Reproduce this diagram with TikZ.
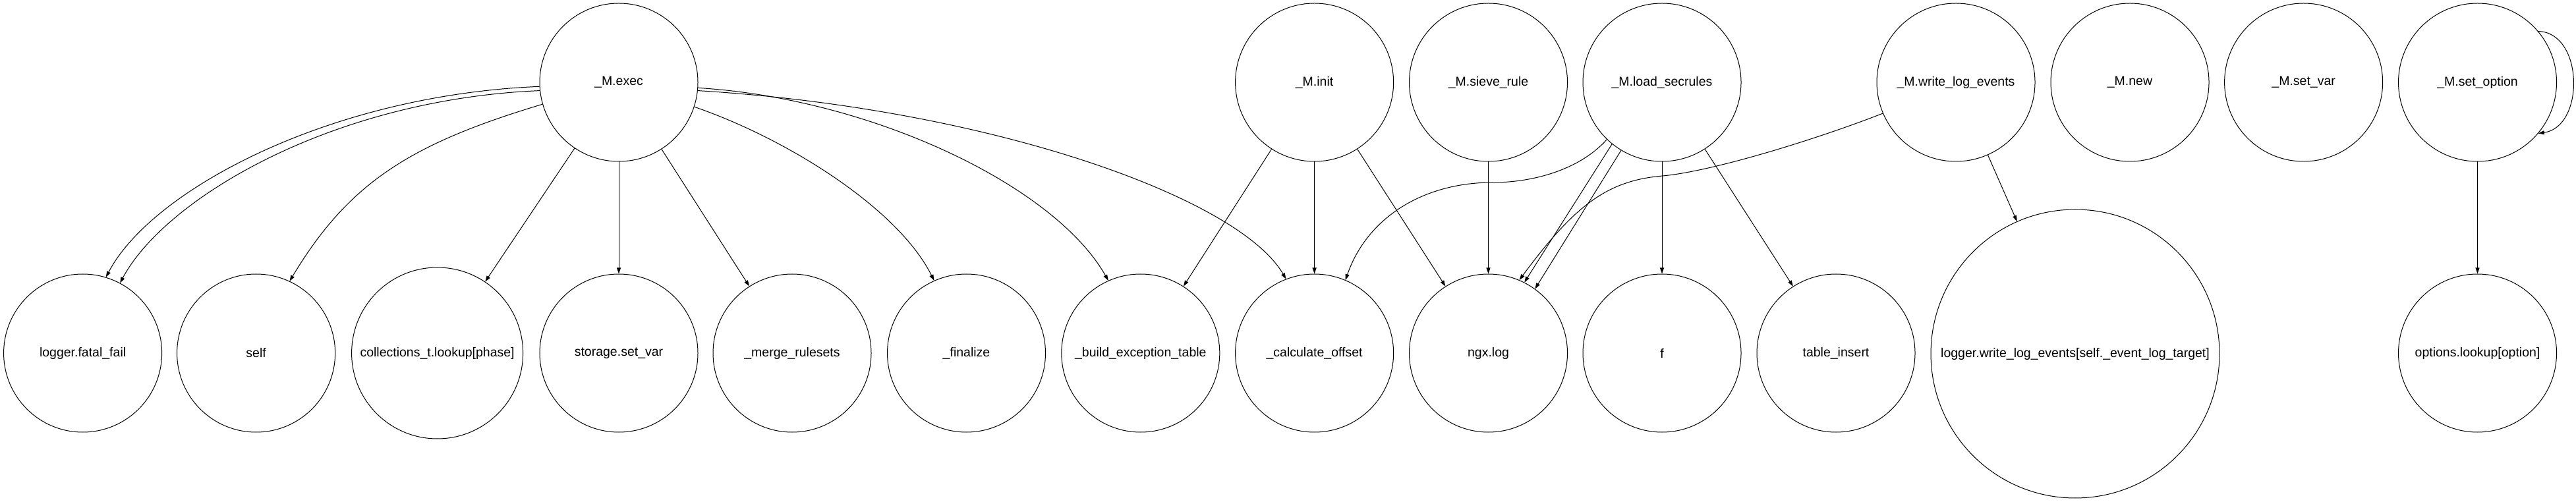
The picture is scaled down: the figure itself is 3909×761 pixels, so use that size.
\documentclass[tikz,border=0pt]{standalone}
\usepackage{fontspec}
\setmainfont{Liberation Sans}
\usetikzlibrary{arrows.meta}
\begin{document}
\begin{tikzpicture}[x=1pt,y=1pt,line width=1pt,line join=round,>={Triangle[length=9pt,width=6pt]},
	fn/.style={circle,draw,inner sep=0pt,minimum size=240pt,font=\fontsize{19.5}{23}\selectfont}]
	\def\ytop{636} \def\ybot{225}
	\useasboundingbox (0,0) rectangle (3909,761);
	% callers
	\node[fn] (exec) at (939,\ytop) {\_M.exec};
	\node[fn] (init) at (1994.6,\ytop) {\_M.init};
	\node[fn] (sieve) at (2258.5,\ytop) {\_M.sieve\_rule};
	\node[fn] (load) at (2522,\ytop) {\_M.load\_secrules};
	\node[fn] (wlog) at (2968,\ytop) {\_M.write\_log\_events};
	\node[fn] (new) at (3232,\ytop) {\_M.new};
	\node[fn] (setvar) at (3495.6,\ytop) {\_M.set\_var};
	\node[fn] (setopt) at (3759.5,\ytop) {\_M.set\_option};
	% callees
	\node[fn] (fatal) at (125.6,\ybot) {logger.fatal\_fail};
	\node[fn] (self) at (388.6,\ybot) {self};
	\node[fn,minimum size=260pt] (lookup) at (663.6,\ybot) {collections\_t.lookup[phase]};
	\node[fn] (storage) at (939,\ybot) {storage.set\_var};
	\node[fn] (merge) at (1202,\ybot) {\_merge\_rulesets};
	\node[fn] (finalize) at (1466.5,\ybot) {\_finalize};
	\node[fn] (build) at (1730.8,\ybot) {\_build\_exception\_table};
	\node[fn] (calc) at (1994.6,\ybot) {\_calculate\_offset};
	\node[fn] (ngx) at (2258.5,\ybot) {ngx.log};
	\node[fn] (f) at (2522,\ybot) {f};
	\node[fn] (tinsert) at (2786,\ybot) {table\_insert};
	\node[fn,minimum size=438pt] (wlogtarget) at (3149,224) {logger.write\_log\_events[self.\_event\_log\_target]};
	\node[fn] (optlookup) at (3759.5,\ybot) {options.lookup[option]};
	% calls
	\draw[->] (exec.183) .. controls +(-319,-13) and +(69,132) .. (fatal.73);
	\draw[->] (exec.186) .. controls +(-314,-13) and +(69,129) .. (fatal.62);
	\draw[->] (exec.196) .. controls +(-200,-60) and +(90,150) .. (self.65);
	\draw[->] (exec) -- (lookup);
	\draw[->] (exec) -- (storage);
	\draw[->] (exec) -- (merge);
	\draw[->] (exec.342) .. controls +(140,-48) and +(-55,110) .. (finalize.114);
	\draw[->] (exec.356) .. controls +(262,-16) and +(-82,145) .. (build.114);
	\draw[->] (exec.354) .. controls +(442,-27) and +(-72,124) .. (calc.111);
	\draw[->] (init) -- (build);
	\draw[->] (init) -- (calc);
	\draw[->] (init) -- (ngx);
	\draw[->] (sieve) -- (ngx);
	\draw[->] (load.226) .. controls +(-39,-44) and +(65,0) .. (2265,484)
		.. controls +(-105,0) and +(33,95) .. (calc.67);
	\draw[->] (load.231) -- (ngx.63);
	\draw[->] (load.239) -- (ngx.54);
	\draw[->] (load) -- (f);
	\draw[->] (load) -- (tinsert);
	\draw[->] (wlog.203) .. controls +(-97,-38) and +(77,7) .. (2523,494)
		.. controls +(-83,-7) and +(85,115) .. (ngx.67);
	\draw[->] (wlog) -- (wlogtarget);
	\draw[->] (setopt.40) .. controls +(69,-2) and +(71,10) .. (setopt.-40);
	\draw[->] (setopt) -- (optlookup);
\end{tikzpicture}
\end{document}
